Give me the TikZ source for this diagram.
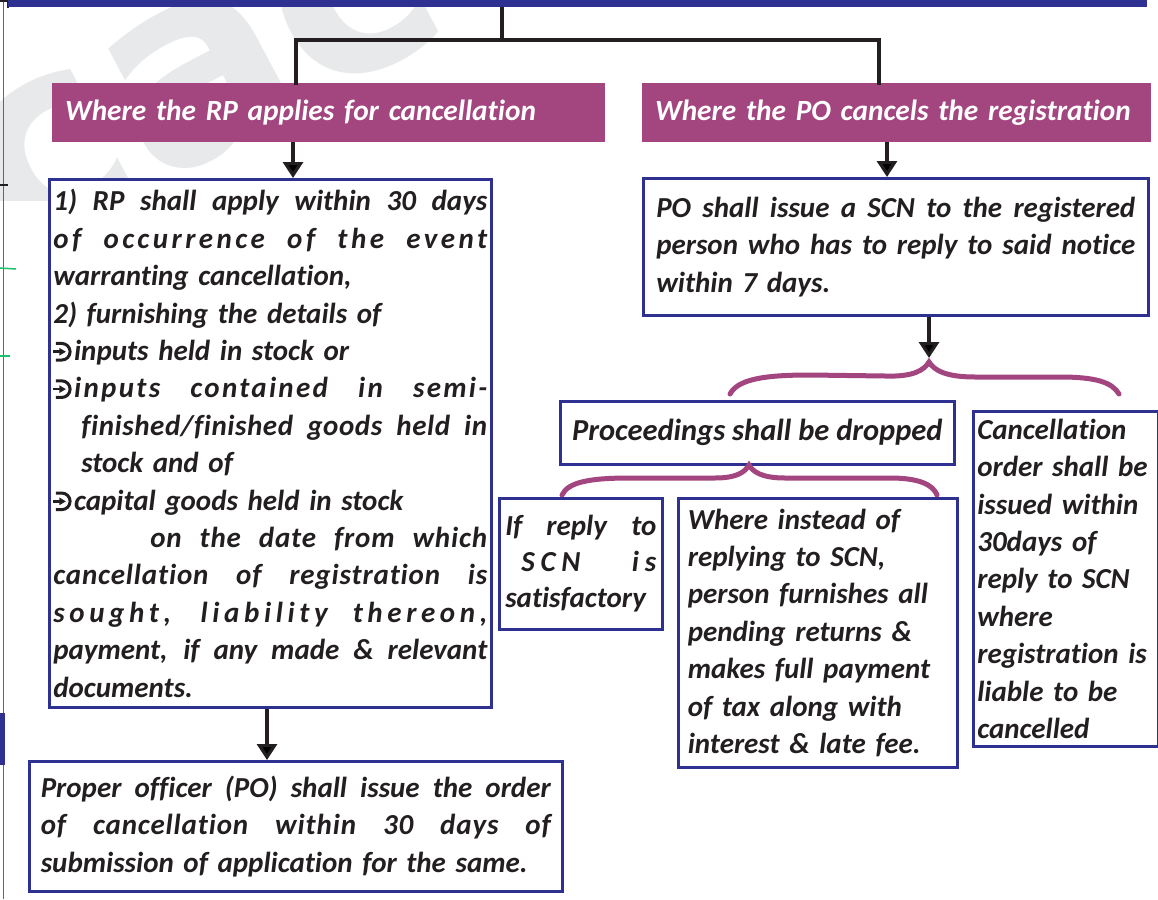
\documentclass[tikz,border=0pt]{standalone}
\usepackage{fontspec}
\setmainfont{Carlito}[Ligatures=NoCommon]
\newfontfamily\markfont{DejaVu Sans}
\usetikzlibrary{arrows.meta}
\definecolor{navy}{HTML}{2E3192}
\definecolor{plum}{HTML}{A3467F}
\definecolor{ink}{HTML}{231F20}
\definecolor{wmark}{HTML}{E8E9EA}
\definecolor{tick}{HTML}{19C26B}
% \tw holds the text width of the box being filled
\newcommand{\tw}{100pt}
% stretchable word spaces for justified lines
\newcommand{\wsp}{\spaceskip=0.24em plus 1fil\relax\xspaceskip=\spaceskip}
% one justified line of a box
\newcommand{\jl}[1]{\makebox[\tw][s]{\wsp #1}}
% justified line with a left indent
\newcommand{\ijl}[2]{\hspace*{#1}\makebox[\dimexpr\tw-#1\relax][s]{\wsp #2}}
% spaced-out letters
\newcommand{\ls}[1]{\addfontfeature{LetterSpace=#1}}
% arrow-in-hook bullet
\newcommand{\bul}{\tikz[baseline=0pt,x=1pt,y=1pt]{%
  \draw[ink, line width=3pt] (2.5,17) -- (8.5,17)
     arc[start angle=90, end angle=-90, radius=8.3] -- (2.5,0.4);
  \fill[ink] (0,7.4) rectangle (7,10);
  \fill[ink] (6,4.8) -- (12.5,8.7) -- (6,12.6) -- cycle;}\kern2.5pt}
\newcommand{\bodyfont}{\fontsize{29}{37.4}\selectfont\bfseries\itshape}
\newcommand{\headfont}{\fontsize{29.3}{32}\selectfont\bfseries\itshape}
\begin{document}
\begin{tikzpicture}[x=1pt,y=-1pt,
  conn/.style={draw=ink, line width=3.2pt},
  arr/.style={conn, -{Triangle[width=20pt,length=16pt]}},
  box/.style={draw=navy, line width=2.6pt, fill=white, anchor=north west,
    inner sep=0pt, text=ink, align=left, font=\bodyfont},
  hdr/.style={fill=plum, text=white, anchor=north west, inner sep=0pt,
    align=left, font=\headfont},
  brace/.style={draw=plum, line width=5pt, line cap=round}]
\useasboundingbox (0,0) rectangle (1158,899);
\fill[white] (0,0) rectangle (1158,899);

% faint watermark letters in the corner
\begin{scope}
\clip (0,0) rectangle (600,200);
\node[text=wmark, font=\markfont\bfseries\fontsize{270}{270}\selectfont,
  rotate=28, anchor=center] (wm) at (200,80) {cac};
\end{scope}

% page edge marks
\draw[gray!80!black, line width=1pt] (3,0) -- (3,899);
\draw[ink, line width=1.5pt] (0,1) -- (8,1) -- (8,8);
\draw[ink, line width=1.2pt] (0,185) -- (8,185);
\draw[tick, line width=1.5pt] (0,268) -- (16,269);
\draw[tick, line width=1.5pt] (0,356) -- (10,356);
\fill[navy] (0,713) rectangle (5,765);

% top bar
\node[fill=navy, minimum width=1139pt, minimum height=7pt, inner sep=0pt,
  anchor=north west] (bar) at (8,0) {};

% headers
\node[hdr, minimum width=553pt, minimum height=59pt, text width=527pt]
  (hL) at (52,83) {Where the RP applies for cancellation};
\node[hdr, minimum width=509pt, minimum height=59pt, text width=483pt]
  (hR) at (642,83) {Where the PO cancels the registration};

% tree from the top bar to the headers
\coordinate (split) at (502,40);
\coordinate (jl) at (296,40);
\coordinate (jr) at (879,40);
\draw[conn] (bar.south -| split) -- (split);
\draw[conn, line cap=rect] (jl |- hL.north) -- (jl) -- (jr) -- (jr |- hR.north);

% left branch
\node[box, minimum width=442pt, minimum height=528pt, text width=434pt]
  (b1) at (48,178) {\renewcommand{\tw}{434pt}%
\jl{1) RP shall apply within 30 days}\\
\jl{\ls{12}of occurrence of the event}\\
warranting cancellation,\\
2) furnishing the details of\\
\bul inputs held in stock or\\
\jl{\bul\ls{8}inputs contained in semi-}\\
\ijl{28pt}{\ls{2}finished/finished goods held in}\\
\hspace*{28pt}stock and of\\
\bul capital goods held in stock\\
\ijl{97pt}{\ls{3}on the date from which}\\
\jl{\ls{3}cancellation of registration is}\\
\jl{\ls{16}sought, liability thereon,}\\
\jl{payment, if any made \& relevant}\\
documents.};

\node[box, minimum width=533pt, minimum height=130pt, text width=510pt]
  (b2) at (28,760) {\renewcommand{\tw}{510pt}%
\jl{Proper officer (PO) shall issue the order}\\
\jl{\ls{3}of cancellation within 30 days of}\\
submission of application for the same.};

\coordinate (aL) at (293,0);
\coordinate (aB) at (267,0);
\draw[arr] (hL.south -| aL) -- (b1.north -| aL);
\draw[arr] (b1.south -| aB) -- (b2.north -| aB);

% right branch
\node[box, minimum width=505pt, minimum height=137pt, text width=479pt]
  (b3) at (642,177) {\renewcommand{\tw}{479pt}%
\jl{PO shall issue a SCN to the registered}\\
\jl{person who has to reply to said notice}\\
within 7 days.};

\coordinate (aR) at (887,0);
\draw[arr] (hR.south -| aR) -- (b3.north -| aR);

% first brace
\coordinate (t1) at (929,362);
\draw[brace] (730,394) .. controls (738,379) and (765,375) .. (810,375)
  -- (885,376) .. controls (914,377) and (924,370) .. (t1)
  .. controls (934,370) and (945,377) .. (975,377)
  -- (1060,377) .. controls (1095,377) and (1112,382) .. (1119,394);
\draw[arr] (b3.south -| t1) -- ([yshift=4pt]t1);

\node[box, minimum width=394pt, minimum height=63pt, align=center,
  font=\fontsize{30.5}{37.4}\selectfont\bfseries\itshape]
  (b4) at (559,400) {Proceedings shall be dropped};

\node[box, minimum width=185pt, minimum height=335pt, text width=177pt]
  (b5) at (972,410) {%
Cancellation\\
order shall be\\
issued within\\
30days of\\
reply to SCN\\
where\\
registration is\\
liable to be\\
cancelled};

% second brace
\coordinate (t2) at (749,465);
\draw[brace] (562,495) .. controls (568,482) and (590,478) .. (630,478)
  -- (715,478) .. controls (737,478) and (745,472) .. (t2)
  .. controls (753,472) and (762,478) .. (785,478)
  -- (890,478) .. controls (920,478) and (933,485) .. (937,495);

\node[box, minimum width=163pt, minimum height=131pt, text width=151pt,
  font=\fontsize{29}{36}\selectfont\bfseries\itshape]
  (b6) at (498,497) {\renewcommand{\tw}{151pt}%
\jl{If reply to}\\
\ijl{16pt}{\ls{20}SCN is}\\
satisfactory};

\node[box, minimum width=279pt, minimum height=269pt, text width=260pt]
  (b7) at (677,497) {%
Where instead of\\
replying to SCN,\\
person furnishes all\\
pending returns \&\\
makes full payment\\
of tax along with\\
interest \& late fee.};
\end{tikzpicture}
\end{document}
